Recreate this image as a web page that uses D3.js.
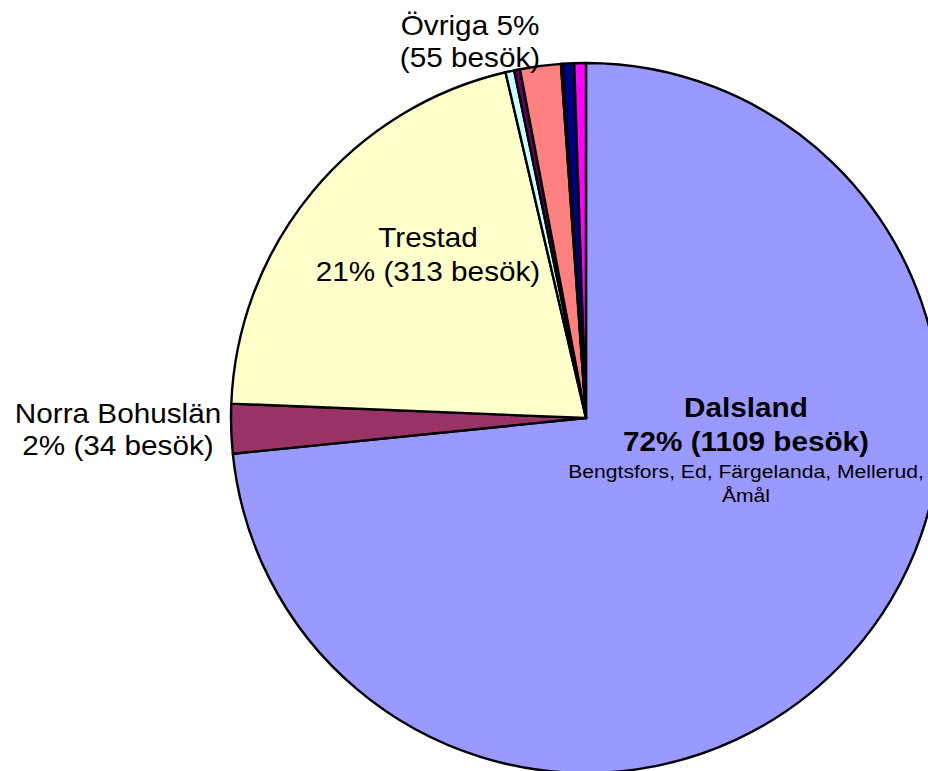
<!DOCTYPE html>
<html>
<head>
<meta charset="utf-8">
<script src="https://cdn.jsdelivr.net/npm/d3@7/dist/d3.min.js"></script>
<style>
  html, body { margin: 0; padding: 0; background: #fff; }
  svg { display: block; }
  text { font-family: "Liberation Sans", Arial, sans-serif; fill: #000; }
</style>
</head>
<body>
<svg id="chart" width="928" height="771"></svg>
<script>
// ---- data ----
const categories = ["Dalsland", "Norra Bohuslän", "Trestad",
  "Övriga 1", "Övriga 2", "Övriga 3", "Övriga 4", "Övriga 5", "Övriga 6"];
const visits = [1109, 34, 313, 6, 4, 28, 1, 8, 8];
const colors = ["#9999FF", "#993366", "#FFFFCC",
  "#CCFFFF", "#660066", "#FF8080", "#0066CC", "#000080", "#FF00FF"];

const labelDalsland = ["Dalsland", "72% (1109 besök)"];
const labelDalslandSub = ["Bengtsfors, Ed, Färgelanda, Mellerud,", "Åmål"];
const labelTrestad = ["Trestad", "21% (313 besök)"];
const labelNorra = ["Norra Bohuslän", "2% (34 besök)"];
const labelOvriga = ["Övriga 5%", "(55 besök)"];

// ---- layout ----
const W = 928, H = 771;
const cx = 586, cy = 418, R = 355;
const sx = 1.1; // horizontal text stretch seen in the reference

const svg = d3.select("#chart");
svg.append("rect").attr("width", W).attr("height", H).attr("fill", "#fff");

const data = categories.map((c, i) => ({ name: c, value: visits[i], color: colors[i] }));

const pie = d3.pie().sort(null).value(d => d.value).startAngle(0).endAngle(2 * Math.PI);
const arc = d3.arc().innerRadius(0).outerRadius(R);

const g = svg.append("g").attr("transform", `translate(${cx},${cy})`);
g.selectAll("path")
  .data(pie(data))
  .join("path")
  .attr("d", arc)
  .attr("fill", d => d.data.color)
  .attr("stroke", "#000")
  .attr("stroke-width", 2.4)
  .attr("stroke-linejoin", "round");

function label(lines, x, y0, dy, size, weight) {
  lines.forEach((t, i) => {
    svg.append("text")
      .attr("transform", `translate(${x},${y0 + i * dy}) scale(${sx},1)`)
      .attr("text-anchor", "middle")
      .attr("font-size", size)
      .attr("font-weight", weight)
      .text(t);
  });
}

label(labelOvriga, 470, 35, 32, 27, "normal");
label(labelTrestad, 428, 247, 34, 27, "normal");
label(labelNorra, 118, 423, 32, 27, "normal");
label(labelDalsland, 746, 417, 34, 27, "bold");
label(labelDalslandSub, 746, 478, 24, 19.2, "normal");
</script>
</body>
</html>
